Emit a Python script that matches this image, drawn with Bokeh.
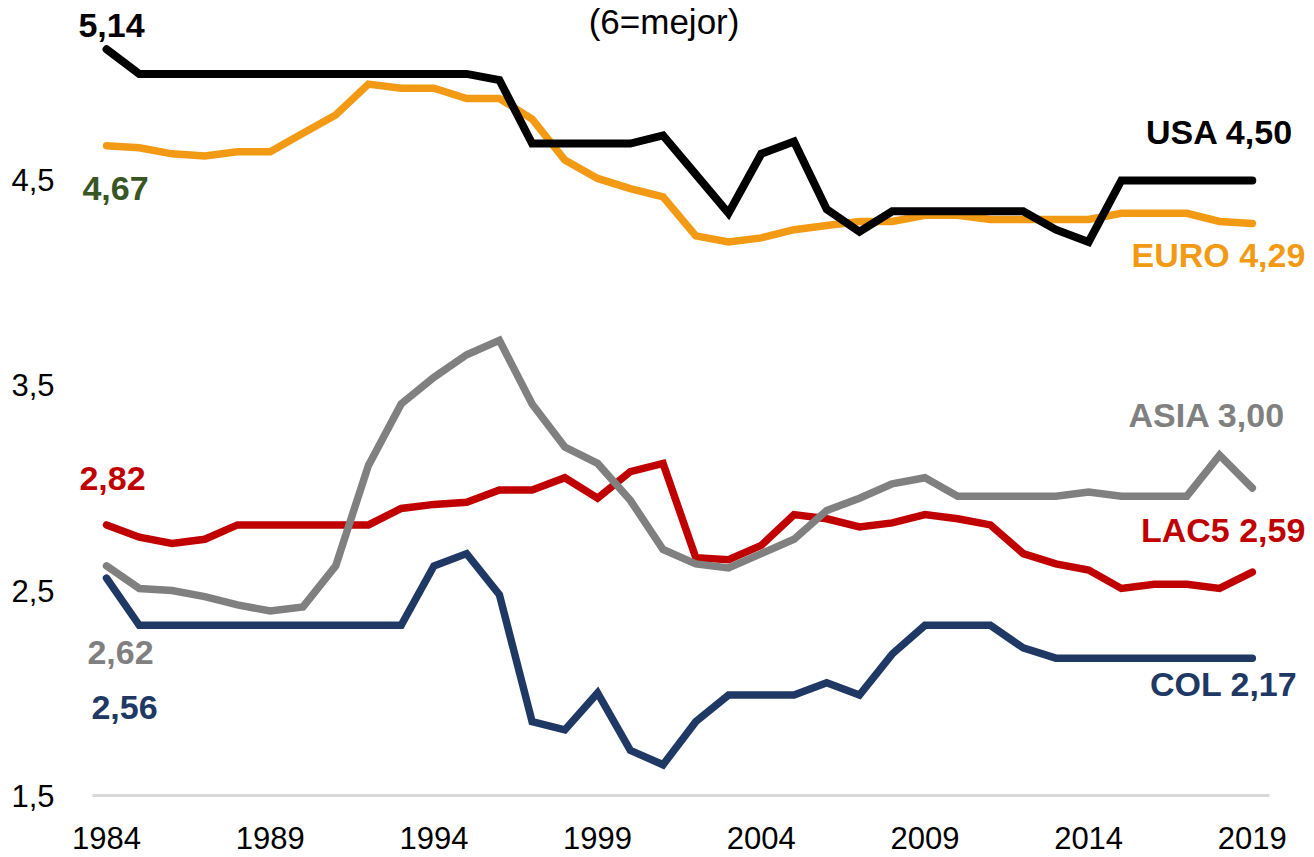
from bokeh.plotting import figure
from bokeh.models import Range1d, FixedTicker, Label
from bokeh.embed import file_html
from bokeh.resources import INLINE

# ---------------- data ----------------
years = list(range(1984, 2020))

usa = [5.14, 5.02, 5.02, 5.02, 5.02, 5.02, 5.02, 5.02, 5.02, 5.02, 5.02, 5.02,
       4.99, 4.68, 4.68, 4.68, 4.68, 4.72, 4.53, 4.34, 4.63, 4.69, 4.36, 4.25,
       4.35, 4.35, 4.35, 4.35, 4.35, 4.26, 4.20, 4.50, 4.50, 4.50, 4.50, 4.50]

euro = [4.67, 4.66, 4.63, 4.62, 4.64, 4.64, 4.73, 4.82, 4.97, 4.95, 4.95, 4.90,
        4.90, 4.80, 4.60, 4.51, 4.46, 4.42, 4.23, 4.20, 4.22, 4.26, 4.28, 4.30,
        4.30, 4.33, 4.33, 4.31, 4.31, 4.31, 4.31, 4.34, 4.34, 4.34, 4.30, 4.29]

asia = [2.62, 2.51, 2.50, 2.47, 2.43, 2.40, 2.42, 2.62, 3.11, 3.41, 3.54, 3.65,
        3.72, 3.41, 3.20, 3.12, 2.94, 2.70, 2.63, 2.61, 2.68, 2.75, 2.89, 2.95,
        3.02, 3.05, 2.96, 2.96, 2.96, 2.96, 2.98, 2.96, 2.96, 2.96, 3.16, 3.00]

lac5 = [2.82, 2.76, 2.73, 2.75, 2.82, 2.82, 2.82, 2.82, 2.82, 2.90, 2.92, 2.93,
        2.99, 2.99, 3.05, 2.95, 3.08, 3.12, 2.66, 2.65, 2.72, 2.87, 2.85, 2.81,
        2.83, 2.87, 2.85, 2.82, 2.68, 2.63, 2.60, 2.51, 2.53, 2.53, 2.51, 2.59]

col = [2.56, 2.33, 2.33, 2.33, 2.33, 2.33, 2.33, 2.33, 2.33, 2.33, 2.62, 2.68,
       2.48, 1.86, 1.82, 2.00, 1.72, 1.65, 1.86, 1.99, 1.99, 1.99, 2.05, 1.99,
       2.19, 2.33, 2.33, 2.33, 2.22, 2.17, 2.17, 2.17, 2.17, 2.17, 2.17, 2.17]

x_ticks = [1984, 1989, 1994, 1999, 2004, 2009, 2014, 2019]
y_ticks = [1.5, 2.5, 3.5, 4.5]
y_tick_labels = ["1,5", "2,5", "3,5", "4,5"]
title_text = "(6=mejor)"
series_names = ["USA", "EURO", "ASIA", "LAC5", "COL"]

# ---------------- styles ----------------
C_USA = "#000000"
C_EURO = "#F29A14"
C_ASIA = "#808080"
C_LAC5 = "#C00000"
C_COL = "#203864"
C_START_EURO = "#375623"

TICK_FONT = "Liberation Sans, Arial, sans-serif"
LABEL_FONT = "Liberation Sans, Arial, sans-serif"


def fmt(v):
    return f"{v:.2f}".replace(".", ",")


# frame spans the whole canvas except a left strip for the y tick labels
p = figure(width=1314, height=857, output_backend="svg", toolbar_location=None,
           x_range=Range1d(1982.96, 2020.90), y_range=Range1d(1.1976, 5.378),
           min_border_left=72, min_border_right=0, min_border_top=0,
           min_border_bottom=0)

p.background_fill_color = "white"
p.border_fill_color = "white"
p.outline_line_color = None
p.xgrid.visible = False
p.ygrid.visible = False

# x axis drawn inside the frame at the bottom value
p.xaxis.fixed_location = y_ticks[0]
p.xaxis.bounds = (1983.57, 2019.52)
p.xaxis.ticker = FixedTicker(ticks=x_ticks)
p.xaxis.axis_line_color = "#D9D9D9"
p.xaxis.axis_line_width = 3
p.xaxis.major_tick_line_color = None
p.xaxis.minor_tick_line_color = None
p.xaxis.major_label_text_font = TICK_FONT
p.xaxis.major_label_text_font_size = "31px"
p.xaxis.major_label_text_color = "black"
p.xaxis.major_label_standoff = 25

p.yaxis.ticker = FixedTicker(ticks=y_ticks)
p.yaxis.major_label_overrides = {t: s for t, s in zip(y_ticks, y_tick_labels)}
p.yaxis.axis_line_color = None
p.yaxis.major_tick_line_color = None
p.yaxis.minor_tick_line_color = None
p.yaxis.major_label_text_font = TICK_FONT
p.yaxis.major_label_text_font_size = "31px"
p.yaxis.major_label_text_color = "black"
p.yaxis.major_label_standoff = 12

# lines
LW = 7.5
for ys, c, w in [(lac5, C_LAC5, LW), (asia, C_ASIA, LW), (col, C_COL, LW),
                 (euro, C_EURO, LW), (usa, C_USA, 8)]:
    p.line(years, ys, line_color=c, line_width=w, line_join="miter",
           line_cap="round")


def add_label(x, y, text, color, dx, dy, align):
    p.add_layout(Label(x=x, y=y, text=text, x_offset=dx, y_offset=dy,
                       text_align=align, text_baseline="middle",
                       text_font=LABEL_FONT, text_font_style="bold",
                       text_font_size="34px", text_color=color))


# start labels
add_label(years[0], usa[0], fmt(usa[0]), C_USA, 5, 24, "center")
add_label(years[0], euro[0], fmt(euro[0]), C_START_EURO, 9, -43, "center")
add_label(years[0], lac5[0], fmt(lac5[0]), C_LAC5, 6, 46, "center")
add_label(years[0], asia[0], fmt(asia[0]), C_ASIA, 14, -87, "center")
add_label(years[0], col[0], fmt(col[0]), C_COL, 18, -129, "center")

# end labels
add_label(years[-1], usa[-1], f"{series_names[0]} {fmt(usa[-1])}", C_USA, 41, 48, "right")
add_label(years[-1], euro[-1], f"{series_names[1]} {fmt(euro[-1])}", C_EURO, 53, -31, "right")
add_label(years[-1], asia[-1], f"{series_names[2]} {fmt(asia[-1])}", C_ASIA, 33, 73, "right")
add_label(years[-1], lac5[-1], f"{series_names[3]} {fmt(lac5[-1])}", C_LAC5, 53, 42, "right")
add_label(years[-1], col[-1], f"{series_names[4]} {fmt(col[-1])}", C_COL, 45, -26, "right")

# title
p.add_layout(Label(x=2001.03, y=5.2756, text=title_text, text_align="center",
                   text_baseline="middle", text_font=LABEL_FONT,
                   text_font_size="35px", text_color="black"))

open("out.html", "w").write(file_html(p, INLINE))
